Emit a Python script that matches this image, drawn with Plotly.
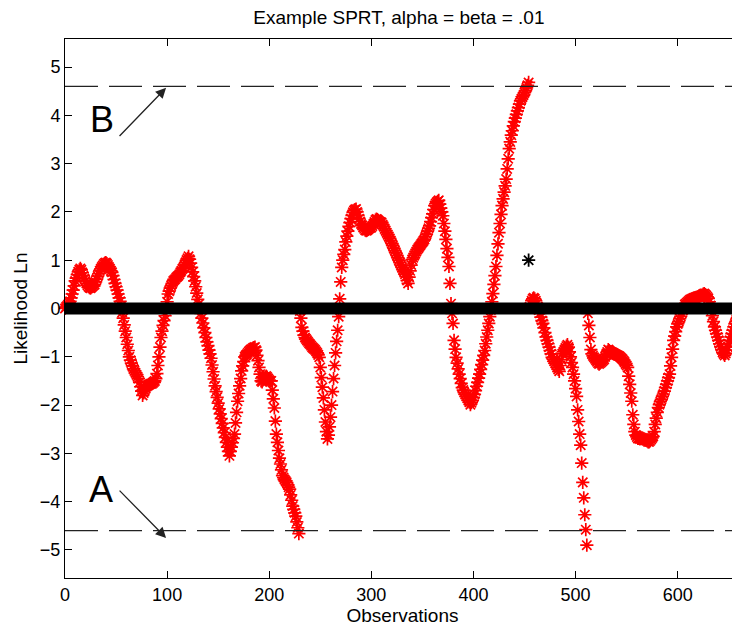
import numpy as np
import plotly.graph_objs as go

# log likelihood ratio per observation, one list per SPRT run (reset to 0 after each decision)
run_1 = [
    0.00, 0.03, 0.05, 0.08, 0.12, 0.15, 0.22, 0.30, 0.38, 0.47,
    0.57, 0.63, 0.70, 0.76, 0.80, 0.83, 0.80, 0.74, 0.68, 0.62,
    0.57, 0.52, 0.48, 0.45, 0.43, 0.42, 0.44, 0.46, 0.48, 0.50,
    0.55, 0.61, 0.67, 0.72, 0.78, 0.82, 0.86, 0.89, 0.92, 0.94,
    0.95, 0.93, 0.90, 0.86, 0.82, 0.78, 0.75, 0.68, 0.60, 0.52,
    0.45, 0.38, 0.30, 0.22, 0.15, 0.05, -0.08, -0.20, -0.34, -0.47,
    -0.60, -0.74, -0.87, -1.00, -1.07, -1.13, -1.19, -1.25, -1.29, -1.33,
    -1.37, -1.41, -1.45, -1.53, -1.62, -1.71, -1.80, -1.75, -1.70, -1.65,
    -1.60, -1.59, -1.58, -1.57, -1.56, -1.56, -1.54, -1.52, -1.50, -1.45,
    -1.35, -1.18, -1.00, -0.80, -0.60, -0.47, -0.35, -0.25, -0.15, -0.02,
    0.14, 0.30, 0.36, 0.42, 0.47, 0.52, 0.57, 0.59, 0.61, 0.64,
    0.66, 0.68, 0.71, 0.75, 0.78, 0.82, 0.85, 0.90, 0.95, 1.00,
    1.04, 1.08, 1.02, 0.94, 0.85, 0.76, 0.66, 0.57, 0.45, 0.32,
    0.19, 0.09, -0.01, -0.10, -0.20, -0.30, -0.40, -0.50, -0.60, -0.69,
    -0.77, -0.86, -0.94, -1.03, -1.17, -1.31, -1.46, -1.60, -1.72, -1.84,
    -1.96, -2.08, -2.18, -2.28, -2.38, -2.47, -2.57, -2.67, -2.77, -2.87,
    -2.96, -3.05, -2.96, -2.87, -2.78, -2.69, -2.60, -2.37, -2.15, -1.92,
    -1.76, -1.60, -1.45, -1.29, -1.19, -1.10, -1.00, -0.97, -0.95, -0.92,
    -0.89, -0.87, -0.85, -0.84, -0.82, -0.81, -0.80, -0.86, -0.97, -1.08,
    -1.22, -1.36, -1.50, -1.52, -1.48, -1.44, -1.42, -1.40, -1.42, -1.45,
    -1.48, -1.50, -1.50, -1.69, -1.87, -2.06, -2.33, -2.60, -2.77, -2.94,
    -3.10, -3.22, -3.34, -3.46, -3.50, -3.54, -3.57, -3.60, -3.65, -3.70,
    -3.74, -3.86, -3.97, -4.09, -4.16, -4.23, -4.30, -4.42, -4.54, -4.66,
]
run_2 = [
    -0.05, -0.20, -0.39, -0.47, -0.55, -0.60, -0.63, -0.66, -0.69, -0.72,
    -0.74, -0.77, -0.80, -0.82, -0.84, -0.86, -0.89, -0.92, -0.96, -1.01,
    -1.22, -1.43, -1.63, -1.85, -2.10, -2.35, -2.55, -2.70, -2.62, -2.45,
    -2.25, -2.00, -1.72, -1.45, -1.18, -0.92, -0.68, -0.45, -0.17, 0.20,
    0.55, 0.85, 1.00, 1.12, 1.22, 1.38, 1.50, 1.60, 1.70, 1.78,
    1.86, 1.93, 1.99, 2.03, 2.05, 2.06, 2.00, 1.93, 1.86, 1.80,
    1.75, 1.72, 1.68, 1.65, 1.62, 1.61, 1.62, 1.64, 1.66, 1.67,
    1.68, 1.71, 1.75, 1.79, 1.83, 1.85, 1.84, 1.82, 1.80, 1.79,
    1.78, 1.74, 1.70, 1.65, 1.61, 1.57, 1.53, 1.49, 1.45, 1.40,
    1.35, 1.30, 1.25, 1.20, 1.15, 1.10, 1.05, 1.00, 0.95, 0.90,
    0.85, 0.80, 0.76, 0.71, 0.66, 0.58, 0.52, 0.65, 0.78, 0.90,
    1.01, 1.05, 1.10, 1.14, 1.18, 1.22, 1.25, 1.28, 1.31, 1.34,
    1.37, 1.40, 1.43, 1.49, 1.54, 1.60, 1.66, 1.71, 1.80, 1.88,
    1.96, 2.05, 2.13, 2.17, 2.20, 2.22, 2.24, 2.16, 2.08, 2.00,
    1.92, 1.76, 1.60, 1.43, 1.24, 1.06, 0.87, 0.52, 0.10, -0.10,
    -0.31, -0.66, -0.84, -1.01, -1.13, -1.25, -1.36, -1.45, -1.55, -1.64,
    -1.69, -1.74, -1.78, -1.82, -1.86, -1.90, -1.94, -1.99, -1.95, -1.90,
    -1.84, -1.78, -1.70, -1.61, -1.53, -1.44, -1.36, -1.26, -1.16, -1.07,
    -0.97, -0.87, -0.73, -0.59, -0.45, -0.31, -0.17, -0.03, 0.14, 0.31,
    0.50, 0.68, 0.87, 1.10, 1.34, 1.57, 1.76, 1.95, 2.13, 2.27,
    2.41, 2.54, 2.68, 2.89, 3.10, 3.31, 3.45, 3.59, 3.68, 3.78,
    3.87, 3.94, 4.02, 4.09, 4.16, 4.23, 4.30, 4.34, 4.38, 4.42,
    4.47, 4.51, 4.57, 4.62, 4.68,
]
run_3 = [
    0.03, 0.10, 0.16, 0.20, 0.22, 0.20, 0.16, 0.10, 0.04, -0.03,
    -0.10, -0.18, -0.25, -0.31, -0.40, -0.50, -0.59, -0.66, -0.73, -0.80,
    -0.87, -0.94, -1.01, -1.05, -1.09, -1.13, -1.17, -1.22, -1.26, -1.30,
    -1.18, -1.06, -0.94, -0.90, -0.86, -0.82, -0.78, -0.75, -0.80, -0.90,
    -1.00, -1.12, -1.22, -1.36, -1.50, -1.66, -1.82, -2.10, -2.34, -2.60,
    -2.83, -3.20, -3.60, -3.92, -4.27, -4.58, -4.90,
]
run_4 = [
    -0.10, -0.35, -0.60, -0.85, -0.94, -0.98, -1.01, -1.04, -1.07, -1.10,
    -1.13, -1.15, -1.13, -1.11, -1.09, -1.07, -1.05, -1.00, -0.95, -0.90,
    -0.85, -0.87, -0.89, -0.90, -0.91, -0.92, -0.94, -0.95, -0.96, -0.97,
    -0.98, -0.99, -1.01, -1.03, -1.05, -1.08, -1.11, -1.15, -1.18, -1.22,
    -1.40, -1.57, -1.75, -1.92, -2.20, -2.40, -2.55, -2.62, -2.66, -2.69,
    -2.69, -2.70, -2.69, -2.68, -2.69, -2.70, -2.71, -2.73, -2.74, -2.76,
    -2.76, -2.74, -2.71, -2.68, -2.65, -2.55, -2.40, -2.27, -2.15, -2.05,
    -1.99, -1.93, -1.88, -1.82, -1.77, -1.71, -1.64, -1.57, -1.50, -1.43,
    -1.36, -1.19, -1.01, -0.84, -0.66, -0.57, -0.48, -0.38, -0.32, -0.27,
    -0.21, -0.16, -0.10, -0.04, 0.02, 0.08, 0.10, 0.12, 0.14, 0.16,
    0.18, 0.19, 0.20, 0.21, 0.22, 0.22, 0.23, 0.23, 0.24, 0.25,
    0.26, 0.27, 0.28, 0.30, 0.31, 0.29, 0.27, 0.24, 0.21, 0.14,
    0.06, -0.03, -0.15, -0.27, -0.38, -0.45, -0.52, -0.59, -0.66, -0.73,
    -0.79, -0.85, -0.91, -0.94, -0.97, -0.93, -0.86, -0.80, -0.73, -0.66,
    -0.59, -0.52, -0.45, -0.38, -0.32, -0.27, -0.21, -0.15, -0.10, -0.05,
]

# decision thresholds, ln((1-beta)/alpha) and ln(beta/(1-alpha))
threshold_B = 4.6
threshold_A = -4.6
decision_obs = [454]
decision_val = [1.0]

x_ticks = [0, 100, 200, 300, 400, 500, 600]
y_ticks = [-5, -4, -3, -2, -1, 0, 1, 2, 3, 4, 5]

llr = run_1 + run_2 + run_3 + run_4
obs = np.arange(len(llr))
baseline = np.zeros(len(llr))

font = "Liberation Sans, Arial, Helvetica, sans-serif"

fig = go.Figure()
fig.add_trace(go.Scatter(
    x=obs, y=llr, mode="markers",
    marker=dict(symbol="asterisk-open", size=11, color="red", line=dict(color="red", width=1.7)),
    cliponaxis=False, showlegend=False
))
fig.add_trace(go.Scatter(
    x=obs, y=baseline, mode="lines",
    line=dict(color="black", width=12), showlegend=False
))
fig.add_trace(go.Scatter(
    x=decision_obs, y=decision_val, mode="markers",
    marker=dict(symbol="asterisk-open", size=11, color="black", line=dict(color="black", width=1.8)),
    showlegend=False
))

for thr in [threshold_B, threshold_A]:
    fig.add_hline(y=thr, line=dict(color="#222222", width=1.2, dash="33px,11px"))

# B / A labels with arrows pointing at the thresholds
fig.add_annotation(x=99, y=threshold_B - 0.03, ax=52, ay=3.54, axref="x", ayref="y", xref="x", yref="y",
                   text="", showarrow=True, arrowhead=2, arrowsize=1.6, arrowwidth=1.3, arrowcolor="#222222")
fig.add_annotation(x=99, y=threshold_A - 0.15, ax=52, ay=-3.74, axref="x", ayref="y", xref="x", yref="y",
                   text="", showarrow=True, arrowhead=2, arrowsize=1.6, arrowwidth=1.3, arrowcolor="#222222")
fig.add_annotation(x=36, y=3.91, text="B", showarrow=False, font=dict(family=font, size=36, color="black"))
fig.add_annotation(x=35, y=-3.75, text="A", showarrow=False, font=dict(family=font, size=36, color="black"))

axis_style = dict(
    showline=True, linecolor="black", linewidth=1, mirror="ticks",
    ticks="inside", ticklen=7, tickcolor="black", tickwidth=1,
    showgrid=False, zeroline=False,
    tickfont=dict(family=font, size=18, color="black"),
)

# the page puts the figure 8px in from the top-left corner
fig.update_layout(
    width=732, height=618,
    margin=dict(l=57, r=0, t=31, b=48),
    plot_bgcolor="white", paper_bgcolor="white",
    title=dict(text="Example SPRT, alpha = beta = .01", x=0.534, xanchor="center",
               y=1 - 3 / 618, yanchor="top", pad=dict(t=0, b=0),
               font=dict(family=font, size=19, color="black")),
    xaxis=dict(range=[0, 661], tickvals=x_ticks,
               title=dict(text="Observations", standoff=8, font=dict(family=font, size=19, color="black")),
               **axis_style),
    yaxis=dict(range=[-5.58, 5.58], tickvals=y_ticks,
               title=dict(text="Likelihood Ln", standoff=7, font=dict(family=font, size=19, color="black")),
               **axis_style),
)

fig.write_html("out.html")
